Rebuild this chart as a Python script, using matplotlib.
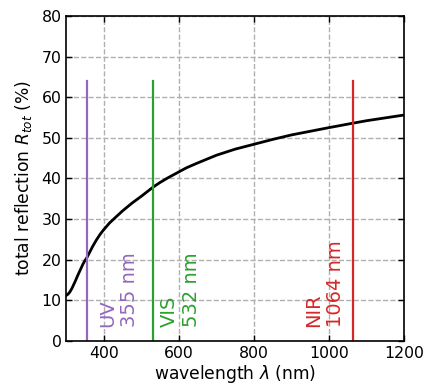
import numpy as np
import matplotlib.pyplot as plt

wavelength = [300, 305, 310, 315, 320, 325, 330, 335, 340, 345, 350, 355, 360,
              370, 380, 390, 400, 415, 430, 450, 475, 500, 532, 550, 570, 600,
              620, 650, 700, 750, 800, 850, 900, 950, 1000, 1064, 1100, 1150, 1200]
reflection = [11.2, 11.5, 12.1, 12.9, 13.9, 14.9, 16.0, 17.0, 18.0, 19.0, 19.8, 20.5, 21.4,
              23.2, 24.8, 26.2, 27.4, 29.0, 30.3, 32.0, 33.9, 35.6, 37.9, 39.0, 40.1, 41.6,
              42.6, 43.8, 45.7, 47.2, 48.4, 49.6, 50.7, 51.6, 52.5, 53.6, 54.2, 54.9, 55.6]

# laser lines
laser_wl = [355, 532, 1064]
laser_names = ["UV", "VIS", "NIR"]
laser_colors = ["#9467bd", "#2ca02c", "#d62728"]
laser_top = 64

fig = plt.figure(figsize=(4.25, 3.89), dpi=100)
ax = fig.add_axes([0.156, 0.124, 0.795, 0.835])

ax.grid(True, color="#b0b0b0", linestyle="--", linewidth=1)
ax.set_axisbelow(True)

ax.plot(wavelength, reflection, color="black", linewidth=2)

text_x = [384, 549, 1043]
text_ha = ["left", "left", "right"]
for wl, name, c, tx, ha in zip(laser_wl, laser_names, laser_colors, text_x, text_ha):
    ax.plot([wl, wl], [0, laser_top], color=c, linewidth=1.6)
    ax.text(tx, 3.5, "{}\n{} nm".format(name, wl), color=c, fontsize=14,
            rotation=90, ha=ha, va="bottom", multialignment="left")

ax.set_xlim(300, 1200)
ax.set_ylim(0, 80)
ax.set_xticks([400, 600, 800, 1000, 1200])
ax.set_yticks(range(0, 81, 10))
ax.tick_params(direction="in", top=True, right=True, labelsize=11.3, length=4, width=1)
for s in ax.spines.values():
    s.set_linewidth(1.2)

ax.set_xlabel(r"wavelength $\lambda$ (nm)", fontsize=12.3, labelpad=2)
ax.set_ylabel(r"total reflection $R_{tot}$ (%)", fontsize=12.3, labelpad=5)

fig.savefig("out.png", dpi=100)
